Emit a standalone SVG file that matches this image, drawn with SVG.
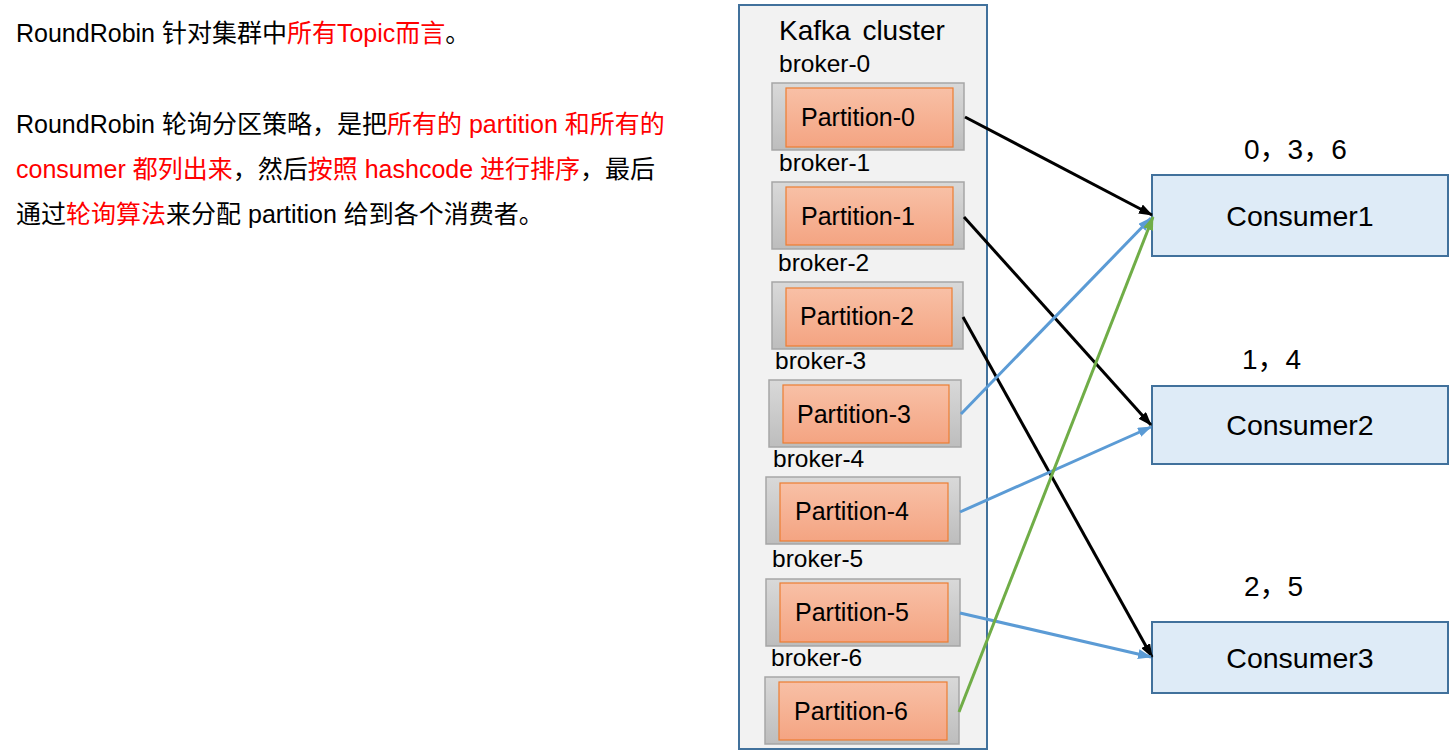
<svg xmlns="http://www.w3.org/2000/svg" width="1449" height="750" viewBox="0 0 1449 750">
<defs>
<linearGradient id="gOuter" x1="0" y1="0" x2="0" y2="1">
<stop offset="0" stop-color="#D9D9D9"/>
<stop offset="1" stop-color="#BDBDBD"/>
</linearGradient>
<linearGradient id="gInner" x1="0" y1="0" x2="0" y2="1">
<stop offset="0" stop-color="#F8C0A6"/>
<stop offset="1" stop-color="#F4A482"/>
</linearGradient>
<marker id="aBlack" markerWidth="14" markerHeight="10" refX="13" refY="5" orient="auto" markerUnits="userSpaceOnUse" viewBox="0 0 14 10">
<path d="M0,0 L14,5 L0,10 Z" fill="#000"/>
</marker>
<marker id="aBlue" markerWidth="14" markerHeight="10" refX="13" refY="5" orient="auto" markerUnits="userSpaceOnUse" viewBox="0 0 14 10">
<path d="M0,0 L14,5 L0,10 Z" fill="#5B9BD5"/>
</marker>
<marker id="aGreen" markerWidth="14" markerHeight="10" refX="13" refY="5" orient="auto" markerUnits="userSpaceOnUse" viewBox="0 0 14 10">
<path d="M0,0 L14,5 L0,10 Z" fill="#70AD47"/>
</marker>
</defs>
<style>
text { font-family: "Liberation Sans", "Noto Sans CJK SC", Arial, sans-serif; fill: #000; }
.desc { font-size: 25px; }
.red { fill: #FF0000; }
.broker { font-size: 24.5px; }
.ptext { font-size: 25px; }
.outer { fill: url(#gOuter); stroke: #A6A6A6; stroke-width: 1.5; }
.inner { fill: url(#gInner); stroke: #ED7D31; stroke-width: 1.2; }
.cons { fill: #DEEBF7; stroke: #41719C; stroke-width: 2; }
.ctext { font-size: 28.5px; }
.num { font-size: 28px; }
.lk { fill: none; stroke-width: 3; }
.k { stroke: #000; }
.b { stroke: #5B9BD5; }
.g { stroke: #70AD47; }
</style>
<rect width="1449" height="750" fill="#FFFFFF"/>

<g id="description">
<text class="desc" x="16" y="42">RoundRobin 针对集群中<tspan class="red">所有Topic而言</tspan>。</text>
<text class="desc" x="16" y="133">RoundRobin 轮询分区策略，是把<tspan class="red">所有的 partition 和所有的</tspan></text>
<text class="desc" x="16" y="178"><tspan class="red">consumer 都列出来</tspan>，然后<tspan class="red">按照 hashcode 进行排序</tspan>，最后</text>
<text class="desc" x="16" y="223">通过<tspan class="red">轮询算法</tspan>来分配 partition 给到各个消费者。</text>
</g>

<g id="kafka-cluster">
<rect x="739" y="5" width="248" height="744" fill="#F2F2F2" stroke="#41719C" stroke-width="2"/>
<text x="779" y="40" font-size="28" word-spacing="4">Kafka cluster</text>
</g>

<g id="broker-0">
<text class="broker" x="779" y="72">broker-0</text>
<rect class="outer" x="772" y="83" width="192" height="67"/>
<rect class="inner" x="786" y="88" width="167" height="59"/>
<text class="ptext" x="801" y="126">Partition-0</text>
</g>
<g id="broker-1">
<text class="broker" x="779" y="171">broker-1</text>
<rect class="outer" x="772" y="182" width="192" height="67"/>
<rect class="inner" x="786" y="187" width="167" height="58"/>
<text class="ptext" x="801" y="225">Partition-1</text>
</g>
<g id="broker-2">
<text class="broker" x="778" y="271">broker-2</text>
<rect class="outer" x="772" y="282" width="191" height="67"/>
<rect class="inner" x="786" y="288" width="166" height="58"/>
<text class="ptext" x="800" y="325">Partition-2</text>
</g>
<g id="broker-3">
<text class="broker" x="775" y="369">broker-3</text>
<rect class="outer" x="769" y="380" width="192" height="67"/>
<rect class="inner" x="783" y="385" width="166" height="58"/>
<text class="ptext" x="797" y="423">Partition-3</text>
</g>
<g id="broker-4">
<text class="broker" x="773" y="467">broker-4</text>
<rect class="outer" x="766" y="477" width="194" height="67"/>
<rect class="inner" x="780" y="483" width="168" height="58"/>
<text class="ptext" x="795" y="520">Partition-4</text>
</g>
<g id="broker-5">
<text class="broker" x="772" y="567">broker-5</text>
<rect class="outer" x="766" y="579" width="194" height="67"/>
<rect class="inner" x="780" y="583" width="168" height="59"/>
<text class="ptext" x="795" y="621">Partition-5</text>
</g>
<g id="broker-6">
<text class="broker" x="771" y="666">broker-6</text>
<rect class="outer" x="765" y="677" width="194" height="67"/>
<rect class="inner" x="779" y="682" width="168" height="58"/>
<text class="ptext" x="794" y="720">Partition-6</text>
</g>

<g id="consumer1">
<text class="num" x="1244" y="159">0，3，6</text>
<rect class="cons" x="1152" y="175" width="296" height="81"/>
<text class="ctext" x="1300" y="226" text-anchor="middle">Consumer1</text>
</g>
<g id="consumer2">
<text class="num" x="1242" y="369">1，4</text>
<rect class="cons" x="1152" y="386" width="296" height="78"/>
<text class="ctext" x="1300" y="435" text-anchor="middle">Consumer2</text>
</g>
<g id="consumer3">
<text class="num" x="1244" y="596">2，5</text>
<rect class="cons" x="1152" y="622" width="296" height="71"/>
<text class="ctext" x="1300" y="668" text-anchor="middle">Consumer3</text>
</g>

<g id="connectors">
<line class="lk k" x1="965" y1="117" x2="1152" y2="215" marker-end="url(#aBlack)"/>
<line class="lk k" x1="964" y1="217" x2="1151" y2="425" marker-end="url(#aBlack)"/>
<line class="lk k" x1="963" y1="317" x2="1152" y2="657" marker-end="url(#aBlack)"/>
<line class="lk b" x1="961" y1="414" x2="1151" y2="218" marker-end="url(#aBlue)"/>
<line class="lk b" x1="960" y1="512" x2="1151" y2="427" marker-end="url(#aBlue)"/>
<line class="lk b" x1="960" y1="613" x2="1151" y2="657" marker-end="url(#aBlue)"/>
<line class="lk g" x1="959" y1="712" x2="1153" y2="217" marker-end="url(#aGreen)"/>
</g>
</svg>
